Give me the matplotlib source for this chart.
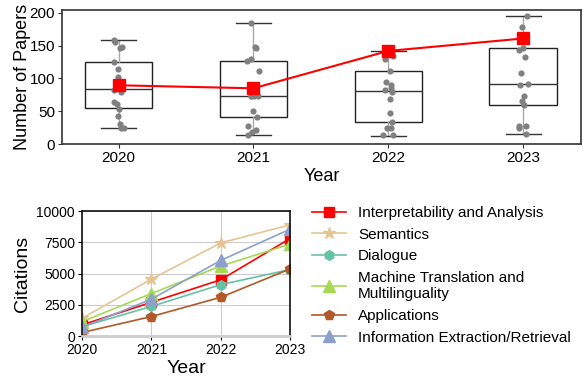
import numpy as np
import matplotlib.pyplot as plt

plt.rcParams['font.family'] = ['Liberation Sans', 'DejaVu Sans']

years = [2020, 2021, 2022, 2023]

# papers per track, one dot per track
papers_2020 = [159, 155, 148, 147, 125, 115, 103, 83, 80, 64, 61, 54, 43, 31, 25, 25]
papers_2021 = [184, 148, 147, 129, 126, 111, 74, 74, 73, 73, 50, 41, 27, 22, 18, 13]
papers_2022 = [142, 135, 130, 112, 95, 90, 85, 82, 79, 68, 48, 34, 25, 25, 13, 13]
papers_2023 = [196, 178, 146, 143, 133, 108, 92, 90, 73, 66, 59, 27, 25, 27, 16]

# box stats
box_q1 = [54.5, 41, 33, 59]
box_med = [83.5, 74, 81, 92]
box_q3 = [125, 126, 112, 146]
box_lo = [25, 13, 12, 16]
box_hi = [159, 184, 142, 196]

interp_papers = [89.6, 85, 142, 161]

cite_series = {
    'Interpretability and Analysis': [890, 2700, 4500, 7800],
    'Semantics': [1420, 4550, 7450, 8900],
    'Dialogue': [750, 2370, 4110, 5320],
    'Machine Translation and\nMultilinguality': [1150, 3400, 5600, 7350],
    'Applications': [280, 1560, 3100, 5370],
    'Information Extraction/Retrieval': [700, 2950, 6050, 8550],
}
cite_colors = ['red', '#e5c494', '#66c2a5', '#a6d854', '#b15928', '#8da0cb']
cite_markers = ['s', '*', 'h', '^', 'p', '^']
cite_msize = [7, 9, 7, 8, 7, 8]

fig = plt.figure(figsize=(5.83, 3.81), dpi=100)

# ---- top: boxplot + strip ----
ax1 = fig.add_axes([0.1063, 0.622, 0.8903, 0.352])
all_papers = [papers_2020, papers_2021, papers_2022, papers_2023]
stats = []
for i in range(4):
    stats.append(dict(med=box_med[i], q1=box_q1[i], q3=box_q3[i],
                      whislo=box_lo[i], whishi=box_hi[i], fliers=[]))
pos = np.arange(4)
ax1.bxp(stats, positions=pos, widths=0.5, capwidths=0.26, patch_artist=True,
        showfliers=False,
        boxprops=dict(facecolor='white', edgecolor='#222222', linewidth=1.0),
        medianprops=dict(color='#333333', linewidth=1.0),
        whiskerprops=dict(color='#aaaaaa', linewidth=1.0),
        capprops=dict(color='#333333', linewidth=1.0), zorder=1)
rng = np.random.default_rng(3)
for i, vals in enumerate(all_papers):
    jit = rng.uniform(-0.045, 0.045, len(vals))
    ax1.scatter(pos[i] + jit, vals, s=20, color='#808080', zorder=3, linewidths=0)
ax1.plot(pos, interp_papers, color='red', marker='s', markersize=8, linewidth=1.5, zorder=4)
ax1.set_xlim(-0.42, 3.43)
ax1.set_ylim(0, 204.6)
ax1.set_yticks([0, 50, 100, 150, 200])
ax1.set_xticks(pos)
ax1.set_xticklabels([str(y) for y in years])
ax1.tick_params(labelsize=11, length=3, pad=2, color='#333333')
ax1.set_xlabel('Year', fontsize=13, labelpad=2)
ax1.set_ylabel('Number of Papers', fontsize=13, labelpad=-1)
for s in ax1.spines.values():
    s.set_color('#333333')
    s.set_linewidth(1.2)

# ---- bottom: citations ----
ax2 = fig.add_axes([0.1407, 0.118, 0.3567, 0.328])
for (name, vals), c, m, ms in zip(cite_series.items(), cite_colors, cite_markers, cite_msize):
    ax2.plot(years, vals, color=c, marker=m, markersize=ms, linewidth=1.2, label=name)
ax2.set_xlim(2020, 2023)
ax2.set_ylim(0, 10000)
ax2.set_xticks(years)
ax2.set_yticks([0, 2500, 5000, 7500, 10000])
ax2.grid(True, color='#cccccc', linewidth=0.8)
ax2.set_axisbelow(True)
ax2.tick_params(labelsize=10, length=3, pad=2)
ax2.set_xlabel('Year', fontsize=14, labelpad=2)
ax2.set_ylabel('Citations', fontsize=14, labelpad=4)
for s in ax2.spines.values():
    s.set_color('#111111')
    s.set_linewidth(1.2)
ax2.spines['bottom'].set_color('#cccccc')
ax2.spines['bottom'].set_linewidth(2)

handles, labels = ax2.get_legend_handles_labels()
fig.legend(handles, labels, loc='upper left', bbox_to_anchor=(0.525, 0.475),
           frameon=False, fontsize=11, handlelength=2.2, labelspacing=0.5,
           handletextpad=0.8, borderaxespad=0)

fig.savefig('out.png', dpi=100)
